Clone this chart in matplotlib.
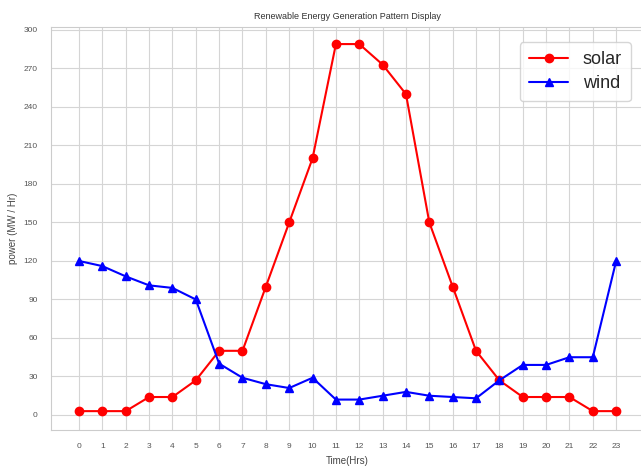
import numpy as np
import matplotlib
matplotlib.use("Agg")
import matplotlib.pyplot as plt
import seaborn as sns

# hourly generation
hours = list(range(24))
solar = [3, 3, 3, 14, 14, 27, 50, 50, 100, 150, 200, 289, 289, 273, 250,
         150, 100, 50, 27, 14, 14, 14, 3, 3]
wind = [120, 116, 108, 101, 99, 90, 40, 29, 24, 21, 29, 12, 12, 15, 18,
        15, 14, 13, 27, 39, 39, 45, 45, 120]
y_ticks = list(range(0, 301, 30))

sns.set_style("whitegrid")
plt.rcParams['font.family'] = ['Liberation Sans', 'DejaVu Sans']

fig = plt.figure(figsize=(6.41, 4.66), dpi=100)
ax = fig.add_axes([51 / 641, 36 / 466, 592 / 641, 403 / 466])

ax.plot(hours, solar, color='red', marker='o', markersize=6, linewidth=1.5, label='solar')
ax.plot(hours, wind, color='blue', marker='^', markersize=6, linewidth=1.5, label='wind')

ax.set_xticks(hours)
ax.set_yticks(y_ticks)
ax.set_xlim(-1.2, 24.15)
ax.set_ylim(-11.7, 302.3)
ax.tick_params(axis='both', labelsize=6, colors='#555555', pad=6)

ax.set_title('Renewable Energy Generation Pattern Display', fontsize=6.5, color='#333333')
ax.set_xlabel('Time(Hrs)', fontsize=7, color='#444444', labelpad=4)
ax.set_ylabel('power (MW / Hr)', fontsize=7, color='#444444', labelpad=4)

for s in ax.spines.values():
    s.set_color('#cccccc')
ax.grid(color='#d5d5d5', linewidth=0.8)

ax.legend(loc='upper right', fontsize=13, handlelength=2.2, borderpad=0.5,
          labelspacing=0.4, bbox_to_anchor=(0.995, 0.985))

fig.savefig('out.png', dpi=100)
